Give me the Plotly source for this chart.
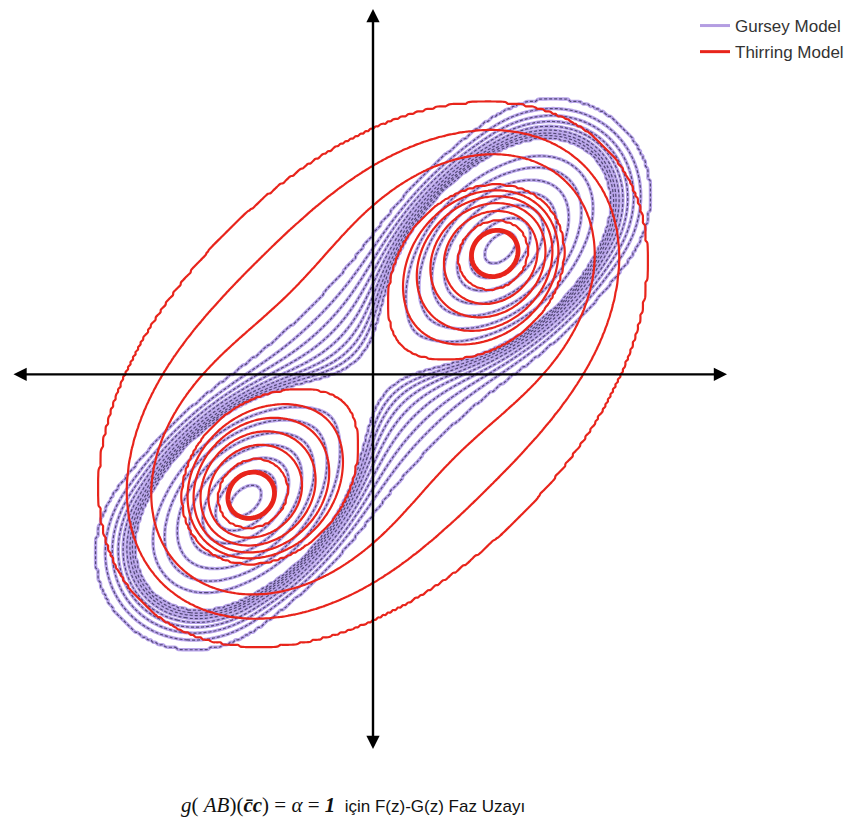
import numpy as np
import plotly.graph_objects as go

# ---------------- values ----------------
# units: 1 unit = 100 px, origin where the two arrows cross
# Thirring (red) curves
thirring_outer_x = [2.47, 2.10, 1.70]                    # where the closed outer curves cut the +x axis
thirring_well_v = [0.33, 0.43, 0.52, 0.60, 0.67, 0.73]   # offsets of the well loops across the diagonal
thirring_core_v = [0.22]                                 # thick ring round each centre
# Gursey (purple) curves
gursey_outer_y = [1.40, 1.27, 1.15, 1.03, 0.91, 0.79, 0.67, 0.55, 0.43]   # where the outer curves cut the +y axis
gursey_well_v = [0.12, 0.23, 0.33, 0.43, 0.52, 0.61, 0.69]               # offsets of the well loops

legend_names = ["Gursey Model", "Thirring Model"]
caption_math = "<i>g</i>( <i>AB</i>)(<b><i>c\u0304c</i></b>) = <i>\u03b1</i> = <b><i>1</i></b>"
caption_text = "  i\u00e7in F(z)-G(z) Faz Uzay\u0131"

# ---------------- phase-space functions ----------------
SQ = np.sqrt(2.0)


def to_uv(x, y):
    return (x + y) / SQ, (y - x) / SQ


def from_uv(u, v):
    return (u - v) / SQ, (u + v) / SQ


def h_thirring(x, y):
    u, v = to_uv(x, y)
    return 0.165 * u**4 - u**2 + (1.0 + 0.467 * u**2) * v**2 + 0.213 * v**4


def h_gursey(x, y):
    u, v = to_uv(x, y)
    d = np.sqrt(v**2 + np.maximum(np.abs(u) - 2.55, 0.0) ** 2 + 0.15**2) - 0.15
    w = 5.5 * (np.exp(-((u - 1.8) / 0.8) ** 2 - (v / 0.55) ** 2)
               + np.exp(-((u + 1.8) / 0.8) ** 2 - (v / 0.55) ** 2))
    return d - w


U0_T = 1.741
U0_G = 1.80

lv_t = [float(h_thirring(xx, 0.0)) for xx in thirring_outer_x]
lv_t += [float(h_thirring(*from_uv(U0_T, vv))) for vv in thirring_well_v]
lv_t = sorted(lv_t)
lv_t_core = [float(h_thirring(*from_uv(U0_T, vv))) for vv in thirring_core_v]

lv_g = [float(h_gursey(0.0, yy)) for yy in gursey_outer_y]
lv_g += [float(h_gursey(*from_uv(U0_G, vv))) for vv in gursey_well_v]
lv_g = sorted(lv_g)

gx = np.linspace(-3.3, 3.3, 265)
gy = np.linspace(-3.3, 3.3, 265)
XX, YY = np.meshgrid(gx, gy)
HT = h_thirring(XX, YY)
HG = h_gursey(XX, YY)


def remap(H, levels):
    lo, hi = float(H.min()) - 1.0, float(H.max()) + 1.0
    n = len(levels)
    return np.interp(H, [lo] + list(levels) + [hi], [-1.0] + list(range(n)) + [float(n)])


ZT = np.round(remap(HT, lv_t), 3)
ZG = np.round(remap(HG, lv_g), 3)
ZC = np.round(HT, 4)

fig = go.Figure()


def contour(z, start, end, color, width, dash="solid"):
    return go.Contour(
        x=gx, y=gy, z=z, autocontour=False,
        contours=dict(start=start, end=end, size=1, coloring="none"),
        line=dict(color=color, width=width, dash=dash, smoothing=1.0),
        showscale=False, showlegend=False, hoverinfo="skip",
    )


PURPLE = "#b9a5ea"
DARK = "#524876"
RED = "#e8241b"

fig.add_trace(contour(ZG, 0, len(lv_g) - 1, PURPLE, 3.4))
fig.add_trace(contour(ZG, 0, len(lv_g) - 1, DARK, 1.2, "3px,2px"))
fig.add_trace(contour(ZT, 0, len(lv_t) - 1, RED, 2.2))
fig.add_trace(contour(ZC, lv_t_core[0], lv_t_core[0], RED, 4.8))

fig.add_trace(go.Scatter(x=[None], y=[None], mode="lines", name=legend_names[0],
                         line=dict(color="#b49de2", width=3), legendgroup="g"))
fig.add_trace(go.Scatter(x=[None], y=[None], mode="lines", name=legend_names[1],
                         line=dict(color=RED, width=3), legendgroup="t"))

arrow = dict(xref="x", yref="y", axref="x", ayref="y", text="", showarrow=True,
             arrowhead=2, arrowside="end+start", arrowwidth=2.4, arrowsize=1.1,
             arrowcolor="black", standoff=0, startstandoff=0)
fig.add_annotation(x=3.54, y=0.0, ax=-3.61, ay=0.0, **arrow)
fig.add_annotation(x=0.0, y=3.68, ax=0.0, ay=-3.79, **arrow)

W, Hh = 857, 818   # page adds an 8 px body margin
fig.add_annotation(
    xref="paper", yref="paper", x=(353 - 8) / W, y=1 - (805 - 8) / Hh,
    xanchor="center", yanchor="middle", showarrow=False,
    text=('<span style="font-family:Liberation Serif;font-size:21px">' + caption_math + '</span>'
          '<span style="font-family:Liberation Sans;font-size:17px">' + caption_text + '</span>'),
    font=dict(color="#111"),
)

fig.update_layout(
    width=W, height=Hh, margin=dict(l=0, r=0, t=0, b=0),
    paper_bgcolor="white", plot_bgcolor="white",
    xaxis=dict(range=[-3.65, 4.92], visible=False),
    yaxis=dict(range=[-4.55, 3.63], visible=False),
    showlegend=True,
    legend=dict(x=(695 - 8) / W, y=1.008, xanchor="left", yanchor="top", traceorder="grouped",
                tracegroupgap=1, bgcolor="rgba(0,0,0,0)",
                font=dict(family="Liberation Sans, Arial", size=17, color="#333")),
)

fig.write_html("out.html")
